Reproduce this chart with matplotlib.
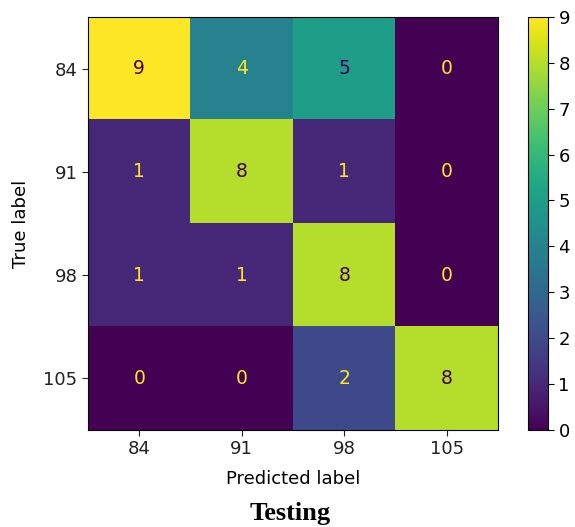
import matplotlib
matplotlib.use("Agg")
import matplotlib.pyplot as plt
import numpy as np

# Confusion matrix (rows = true label, cols = predicted label)
class_labels = ["84", "91", "98", "105"]
counts = [
    [9, 4, 5, 0],
    [1, 8, 1, 0],
    [1, 1, 8, 0],
    [0, 0, 2, 8],
]
caption = "Testing"

cm = np.array(counts)
cmap = plt.get_cmap("viridis")

fig = plt.figure(figsize=(5.75, 5.27), dpi=100)
ax = fig.add_axes([0.153, 0.184, 0.713, 0.784])
cax = fig.add_axes([0.918, 0.184, 0.035, 0.784])

im = ax.imshow(cm, cmap=cmap, interpolation="nearest", aspect="auto")

# text colour flips at the midpoint, like sklearn's display
thresh = (cm.max() + cm.min()) / 2.0
for i in range(cm.shape[0]):
    for j in range(cm.shape[1]):
        color = cmap(0.0) if cm[i, j] >= thresh else cmap(1.0)
        ax.text(j, i, str(cm[i, j]), ha="center", va="center",
                color=color, fontsize=13.5)

ax.set_xticks(range(len(class_labels)))
ax.set_xticklabels(class_labels, fontsize=13)
ax.set_yticks(range(len(class_labels)))
ax.set_yticklabels(class_labels, fontsize=13)
ax.set_xlabel("Predicted label", fontsize=13, labelpad=8)
ax.set_ylabel("True label", fontsize=13, labelpad=10)
ax.tick_params(colors="#222222", length=4)

cb = fig.colorbar(im, cax=cax)
cb.set_ticks(range(0, 10))
cb.ax.tick_params(labelsize=13, length=4)

fig.text(0.505, 0.004, caption, ha="center", va="bottom",
         fontsize=19, fontweight="bold", family="Liberation Serif")

fig.savefig("out.png", dpi=100)
